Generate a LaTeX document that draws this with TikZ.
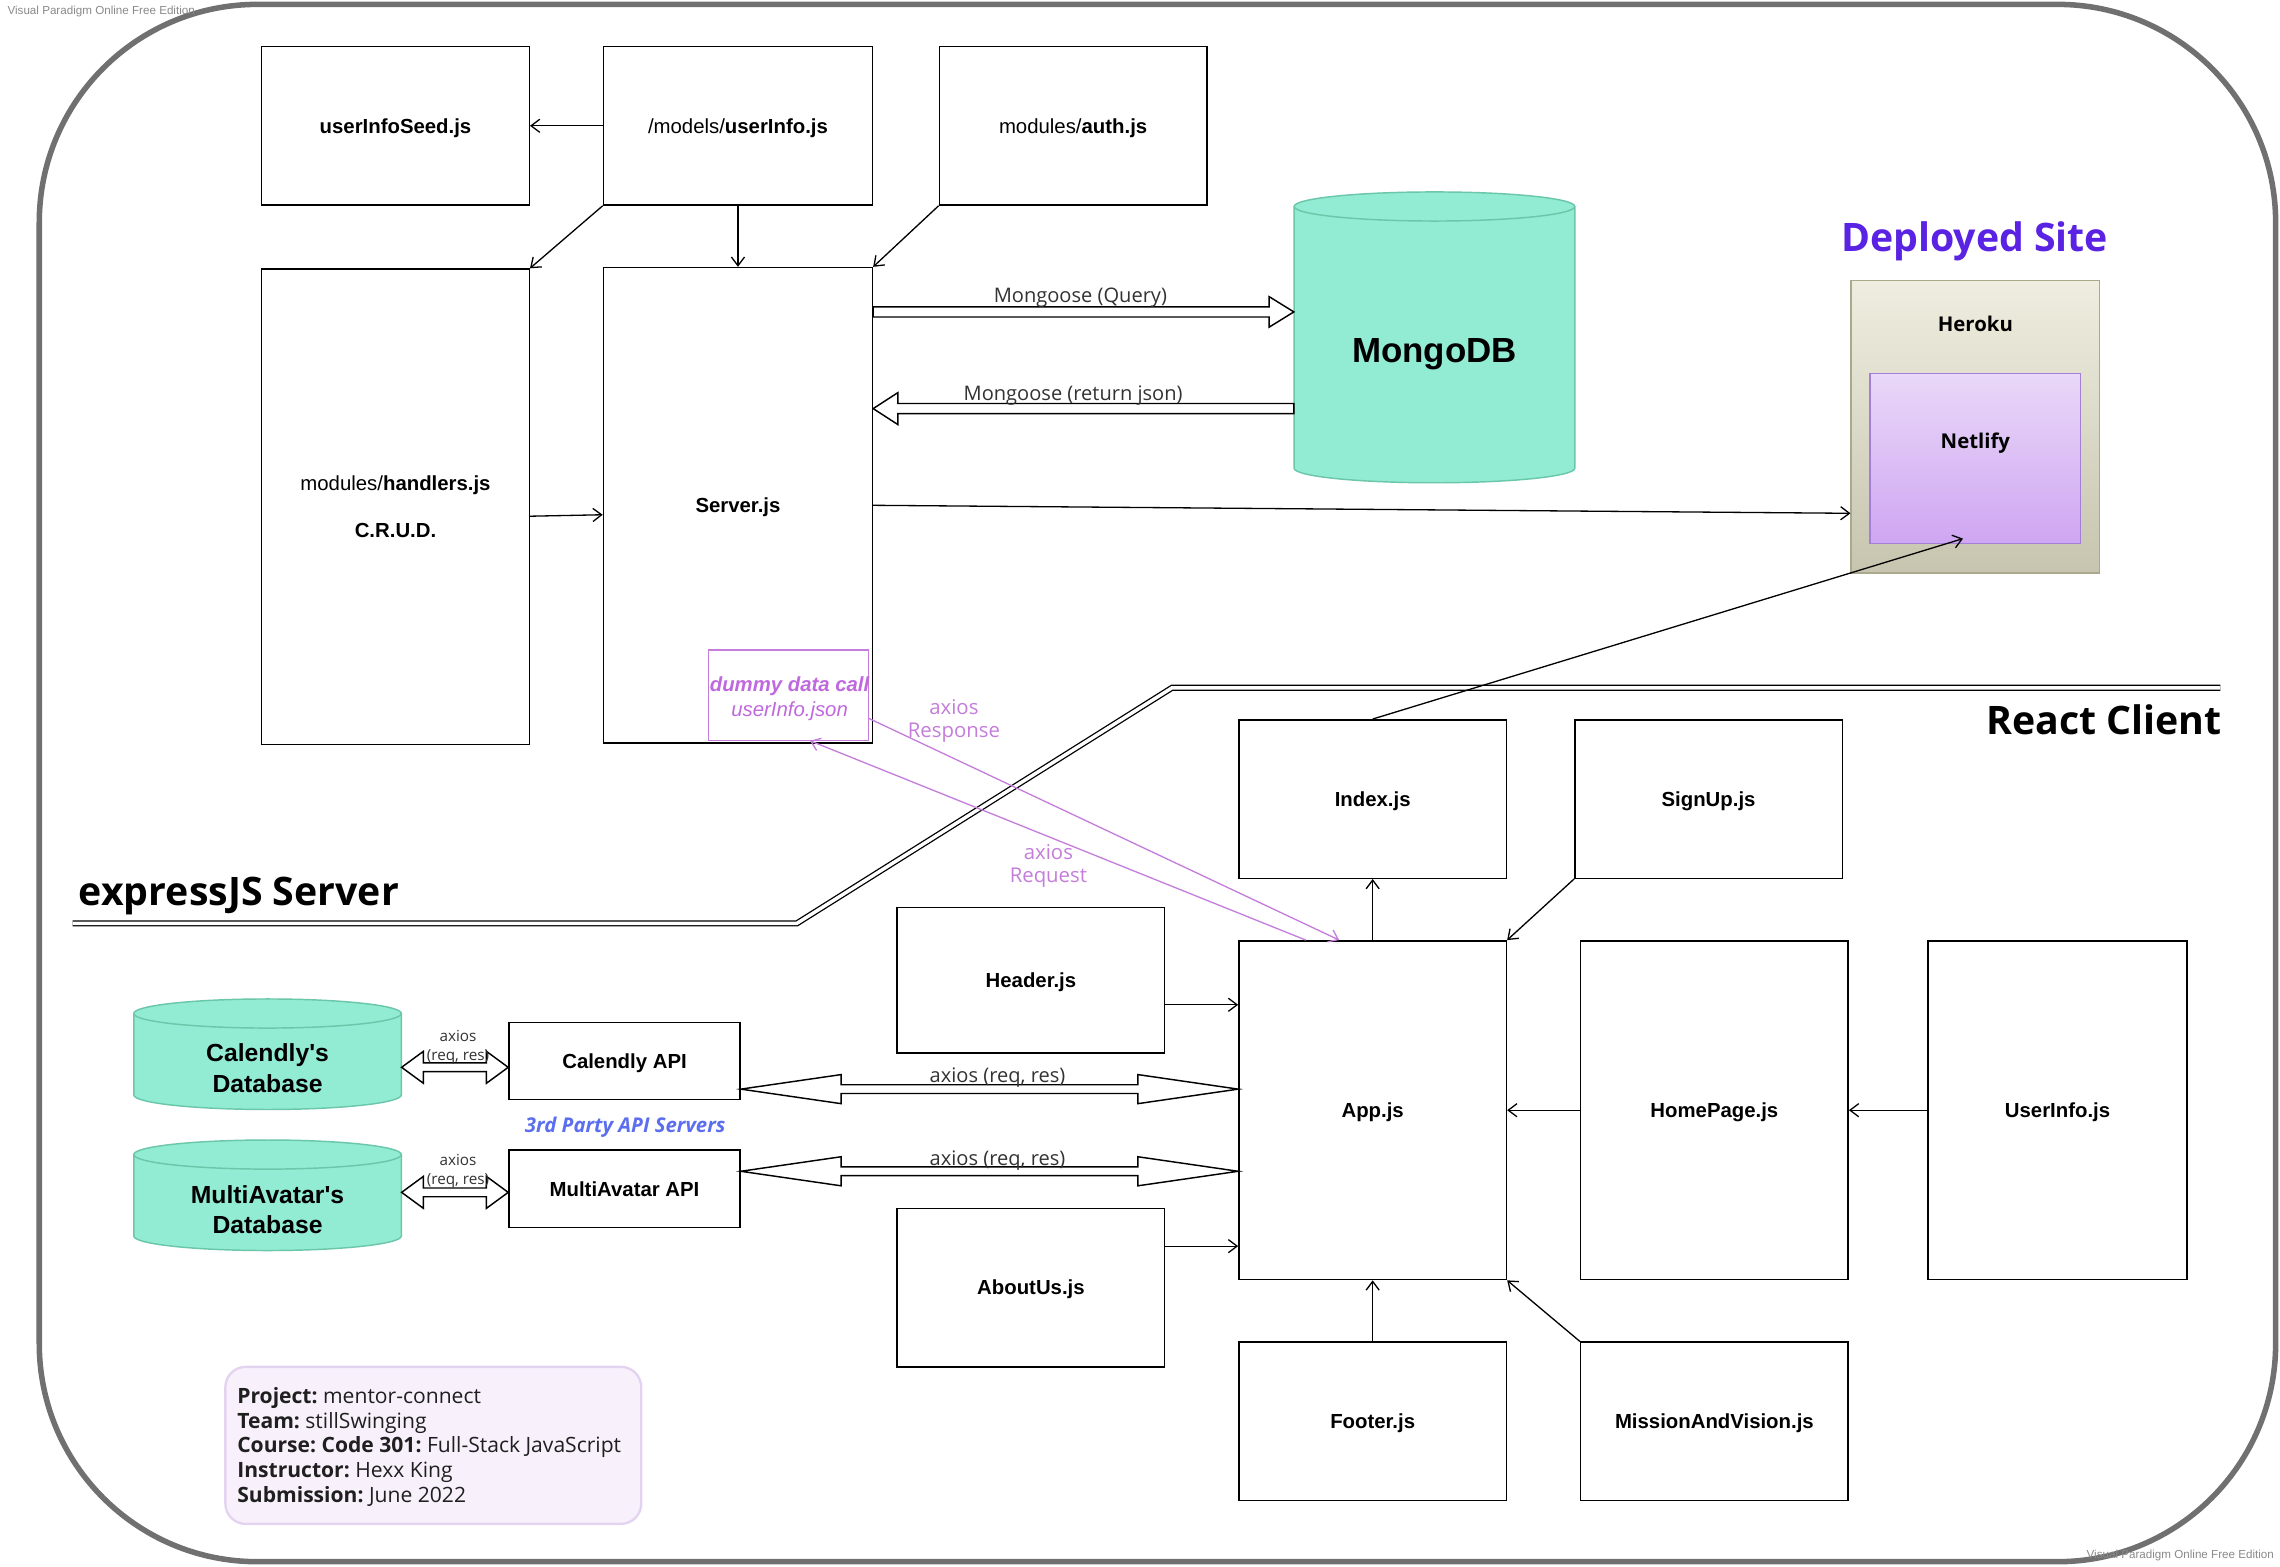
\documentclass[tikz,border=0pt]{standalone}
\usepackage{fontspec}
\setmainfont{Liberation Sans}
\newfontfamily\os{Open Sans}
\usetikzlibrary{arrows.meta,calc}
\definecolor{mint}{HTML}{92EBD3}
\definecolor{mintline}{HTML}{6BC7AA}
\definecolor{bordergray}{HTML}{707070}
\definecolor{lilac}{HTML}{C47DDB}
\definecolor{dummytxt}{HTML}{C068DE}
\definecolor{deploy}{HTML}{5A22E2}
\definecolor{thirdp}{HTML}{5B6EEF}
\definecolor{herokutop}{HTML}{EFEDDF}
\definecolor{herokubot}{HTML}{C7C5AF}
\definecolor{herokuline}{HTML}{ABA98C}
\definecolor{netlifytop}{HTML}{E9D8F8}
\definecolor{netlifybot}{HTML}{CFA6F2}
\definecolor{netlifyline}{HTML}{A47FD8}
\definecolor{infofill}{HTML}{F8F1FC}
\definecolor{infoline}{HTML}{E3D3F0}
\definecolor{labelgray}{HTML}{333333}
\definecolor{wmgray}{HTML}{8A8A8A}
\newcommand{\fatarrow}[5]{%
  \draw[fatline] let \p1=(#1), \p2=(#2), \n1={sign(\x2-\x1)} in
  ({\x1},{\y1+#3}) -- ({\x2-(\n1)*#5},{\y1+#3}) -- ({\x2-(\n1)*#5},{\y1+#4}) -- ({\x2},{\y1})
  -- ({\x2-(\n1)*#5},{\y1-#4}) -- ({\x2-(\n1)*#5},{\y1-#3}) -- ({\x1},{\y1-#3}) -- cycle;}
\newcommand{\fatdouble}[5]{%
  \draw[fatline] let \p1=(#1), \p2=(#2) in
  ({\x1},{\y1}) -- ({\x1+#5},{\y1+#4}) -- ({\x1+#5},{\y1+#3}) -- ({\x2-#5},{\y1+#3})
  -- ({\x2-#5},{\y1+#4}) -- ({\x2},{\y1}) -- ({\x2-#5},{\y1-#4}) -- ({\x2-#5},{\y1-#3})
  -- ({\x1+#5},{\y1-#3}) -- ({\x1+#5},{\y1-#4}) -- cycle;}
% cylinder: x1 ytop x2 ybottom rx ry
\newcommand{\dbcyl}[6]{%
  \draw[dbshape] (#1,#2+#6) -- (#1,#4-#6) arc[start angle=180,end angle=360,x radius=#5pt,y radius=#6pt]
    -- (#3,#2+#6) arc[start angle=0,end angle=180,x radius=#5pt,y radius=#6pt] -- cycle;
  \draw[dbline] (#1,#2+#6) arc[start angle=180,end angle=360,x radius=#5pt,y radius=#6pt];}
\begin{document}
\begin{tikzpicture}[x=1pt,y=-1pt,
  boxm/.style={draw=black,line width=1pt,fill=white,inner sep=0pt,align=center,
    font=\fontsize{14}{16}\selectfont},
  box/.style={boxm,text height=10pt,text depth=0pt},
  conn/.style={draw=black,line width=0.9pt,-{Straight Barb[length=6pt,width=9pt]}},
  pconn/.style={conn,draw=lilac},
  fatline/.style={draw=black,line width=1pt,fill=white},
  dbshape/.style={draw=mintline,line width=1pt,fill=mint},
  dbline/.style={draw=mintline,line width=1pt},
  dblabel/.style={font=\fontsize{17}{21}\selectfont\bfseries,align=center,inner sep=0pt},
  ghost/.style={inner sep=0pt,draw=none},
  lbl/.style={font=\os\fontsize{13.8}{16}\selectfont,text=labelgray,inner sep=0pt,align=center},
  plbl/.style={font=\os\fontsize{14}{16}\selectfont,text=lilac,inner sep=0pt,align=center},
  heading/.style={font=\os\fontsize{27}{30}\selectfont\bfseries,inner sep=0pt,text depth=0pt},
  secline/.style={draw=black,line width=0.9pt,double=white,double distance=2.4pt},
  wm/.style={font=\fontsize{8}{9}\selectfont,text=wmgray,inner sep=0pt}
]
\useasboundingbox (0,0) rectangle (1568,1077);
\fill[white] (0,0) rectangle (1568,1077);
% outer frame
\draw[draw=bordergray,line width=3.8pt,rounded corners=150pt] (27,3) rectangle (1565,1074);

% section separators
\draw[secline] (50,635) -- (548,635) -- (806,473) -- (1527,473);
\node[heading,anchor=west] (hexpress) at (54,613) {expressJS Server};
\node[heading,anchor=east] (hreact) at (1528,495) {React Client};
\node[heading,text=deploy] (hdeploy) at (1358,163) {Deployed Site};

% server side boxes
\node[box,minimum width=184,minimum height=109] (seed) at (272,86.5) {\textbf{userInfoSeed.js}};
\node[box,minimum width=185,minimum height=109] (models) at (507.5,86.5) {/models/\textbf{userInfo.js}};
\node[box,minimum width=184,minimum height=109] (auth) at (738,86.5) {modules/\textbf{auth.js}};
\node[boxm,minimum width=184,minimum height=327] (handlers) at (272,348.5) {modules/\textbf{handlers.js}\\[16pt]\textbf{C.R.U.D.}};
\node[box,minimum width=185,minimum height=327] (server) at (507.5,347.5) {\textbf{Server.js}};
\node[draw=lilac,line width=0.8pt,fill=none,minimum width=110,minimum height=62,inner sep=0pt] (dummy) at (542,478) {};
\node[font=\fontsize{14}{17}\selectfont,text=dummytxt,align=center,inner sep=0pt] (dummytext) at (543,480.5)
  {{\bfseries\itshape dummy data call}\\{\itshape userInfo.json}};

% MongoDB
\dbcyl{890}{132}{1083}{332}{96.5}{10}
\node[ghost,minimum width=193,minimum height=200] (mongo) at (986.5,232) {};
\node[font=\fontsize{24}{28}\selectfont\bfseries,inner sep=0pt,text depth=0pt] (mongolbl) at (986.5,241) {MongoDB};

% deployment
\node[draw=herokuline,line width=0.8pt,top color=herokutop,bottom color=herokubot,minimum width=171,minimum height=201,inner sep=0pt] (heroku) at (1358.5,293.5) {};
\node[draw=netlifyline,line width=0.8pt,top color=netlifytop,bottom color=netlifybot,minimum width=145,minimum height=117,inner sep=0pt] (netlify) at (1358.5,315.5) {};
\node[font=\os\fontsize{14}{16}\selectfont\bfseries,inner sep=0pt] (herokulbl) at (1358.5,223) {Heroku};
\node[font=\os\fontsize{14}{16}\selectfont\bfseries,inner sep=0pt] (netlifylbl) at (1358.5,304.5) {Netlify};

% client boxes
\node[box,minimum width=184,minimum height=109] (index) at (944,549.5) {\textbf{Index.js}};
\node[box,minimum width=184,minimum height=109] (signup) at (1175,549.5) {\textbf{SignUp.js}};
\node[box,minimum width=184,minimum height=100] (header) at (709,674) {\textbf{Header.js}};
\node[box,minimum width=184,minimum height=233] (app) at (944,763.5) {\textbf{App.js}};
\node[box,minimum width=184,minimum height=233] (homepage) at (1179,763.5) {\textbf{HomePage.js}};
\node[box,minimum width=178,minimum height=233] (userinfo) at (1415,763.5) {\textbf{UserInfo.js}};
\node[box,minimum width=184,minimum height=109] (aboutus) at (709,885.5) {\textbf{AboutUs.js}};
\node[box,minimum width=184,minimum height=109] (footer) at (944,977.5) {\textbf{Footer.js}};
\node[box,minimum width=184,minimum height=109] (mission) at (1179,977.5) {\textbf{MissionAndVision.js}};

% third party
\node[box,minimum width=159,minimum height=53] (calapi) at (429.5,729.5) {\textbf{Calendly API}};
\node[box,minimum width=159,minimum height=53] (multiapi) at (429.5,817.5) {\textbf{MultiAvatar API}};
\node[font=\os\fontsize{14}{16}\selectfont\bfseries\itshape,text=thirdp,inner sep=0pt] (thirdlbl) at (430,775.5) {3rd Party API Servers};
\dbcyl{92}{687}{276}{763}{92}{10}
\node[ghost,minimum width=184,minimum height=76] (caldb) at (184,725) {};
\node[dblabel] (caldblbl) at (184,734.5) {Calendly\textquotesingle s\\Database};
\dbcyl{92}{784}{276}{860}{92}{10}
\node[ghost,minimum width=184,minimum height=76] (multidb) at (184,822) {};
\node[dblabel] (multidblbl) at (184,832) {MultiAvatar\textquotesingle s\\Database};

% info box
\node[draw=infoline,line width=1.6pt,fill=infofill,rounded corners=14pt,minimum width=286,minimum height=108,inner sep=0pt] (info) at (298,994) {};
\node[anchor=west,align=left,inner sep=0pt,text=black!88,
  font=\os\fontsize{14.5}{17}\selectfont\frenchspacing] (infotext) at (163,995)
  {\textbf{Project:} mentor-connect\\
   \textbf{Team:} stillSwinging\\
   \textbf{Course: Code 301:} Full-Stack JavaScript\\
   \textbf{Instructor:} Hexx King\\
   \textbf{Submission:} June 2022};

% connectors: server side
\draw[conn] (models.west) -- (seed.east);
\draw[conn] (models.south west) -- (handlers.north east);
\draw[conn] (models.south) -- (server.north);
\draw[conn] (auth.south west) -- (server.north east);
\draw[conn] ([yshift=-6.5pt]handlers.east) -- ([yshift=-6.5pt]server.west);
\draw[conn] (server.east) -- ([yshift=-59.5pt]heroku.west);
\draw[conn] (index.north) -- ([xshift=-8.5pt,yshift=4pt]netlify.south);

% mongoose fat arrows
\coordinate (q1) at ([yshift=133pt]server.east);
\coordinate (q2) at (mongo.west |- q1);
\fatarrow{q1}{q2}{3.5pt}{10.5pt}{17pt}
\coordinate (r2) at ([yshift=66.5pt]server.east);
\coordinate (r1) at (mongo.west |- r2);
\fatarrow{r1}{r2}{3.5pt}{11pt}{17pt}
\node[lbl] (mq) at (743,205) {Mongoose (Query)};
\node[lbl] (mr) at (738,272) {Mongoose (return json)};

% axios dummy calls
\draw[pconn] ([yshift=-16pt]dummy.east) -- ([xshift=-23pt]app.north);
\draw[pconn] ([xshift=-46pt]app.north) -- ([xshift=15pt]dummy.south);
\node[plbl] (axresp) at (656,496) {axios\\Response};
\node[plbl] (axreq) at (721,595.5) {axios\\Request};

% client connectors
\draw[conn] (app.north) -- (index.south);
\draw[conn] (signup.south west) -- (app.north east);
\coordinate (h1) at ([yshift=-17pt]header.east);
\draw[conn] (h1) -- (app.west |- h1);
\coordinate (a1) at ([yshift=28.5pt]aboutus.east);
\draw[conn] (a1) -- (app.west |- a1);
\draw[conn] (homepage.west) -- (app.east);
\draw[conn] (userinfo.west) -- (homepage.east);
\draw[conn] (footer.north) -- (app.south);
\draw[conn] (mission.north west) -- (app.south east);

% axios req/res double arrows
\coordinate (c1) at ([yshift=-19.5pt]calapi.east);
\coordinate (c2) at (app.west |- c1);
\fatdouble{c1}{c2}{3pt}{10pt}{69pt}
\coordinate (c3) at ([yshift=12pt]multiapi.east);
\coordinate (c4) at (app.west |- c3);
\fatdouble{c3}{c4}{3pt}{10pt}{69pt}
\node[lbl] (ax1) at (686,741) {axios (req, res)};
\node[lbl] (ax2) at (686,798) {axios (req, res)};

\coordinate (d1) at ([yshift=-4.5pt]calapi.west);
\coordinate (d0) at (caldb.east |- d1);
\fatdouble{d0}{d1}{3pt}{11pt}{15pt}
\coordinate (e1) at ([yshift=-2.5pt]multiapi.west);
\coordinate (e0) at (multidb.east |- e1);
\fatdouble{e0}{e1}{3pt}{11pt}{15pt}
\node[lbl,font=\os\fontsize{10.5}{13}\selectfont] (sx1) at (315,720) {axios\\(req, res)};
\node[lbl,font=\os\fontsize{10.5}{13}\selectfont] (sx2) at (315,805.5) {axios\\(req, res)};

% watermarks
\node[wm,anchor=west] (wm1) at (5,8) {Visual Paradigm Online Free Edition};
\node[wm,anchor=east] (wm2) at (1564,1070) {Visual Paradigm Online Free Edition};
\end{tikzpicture}
\end{document}
